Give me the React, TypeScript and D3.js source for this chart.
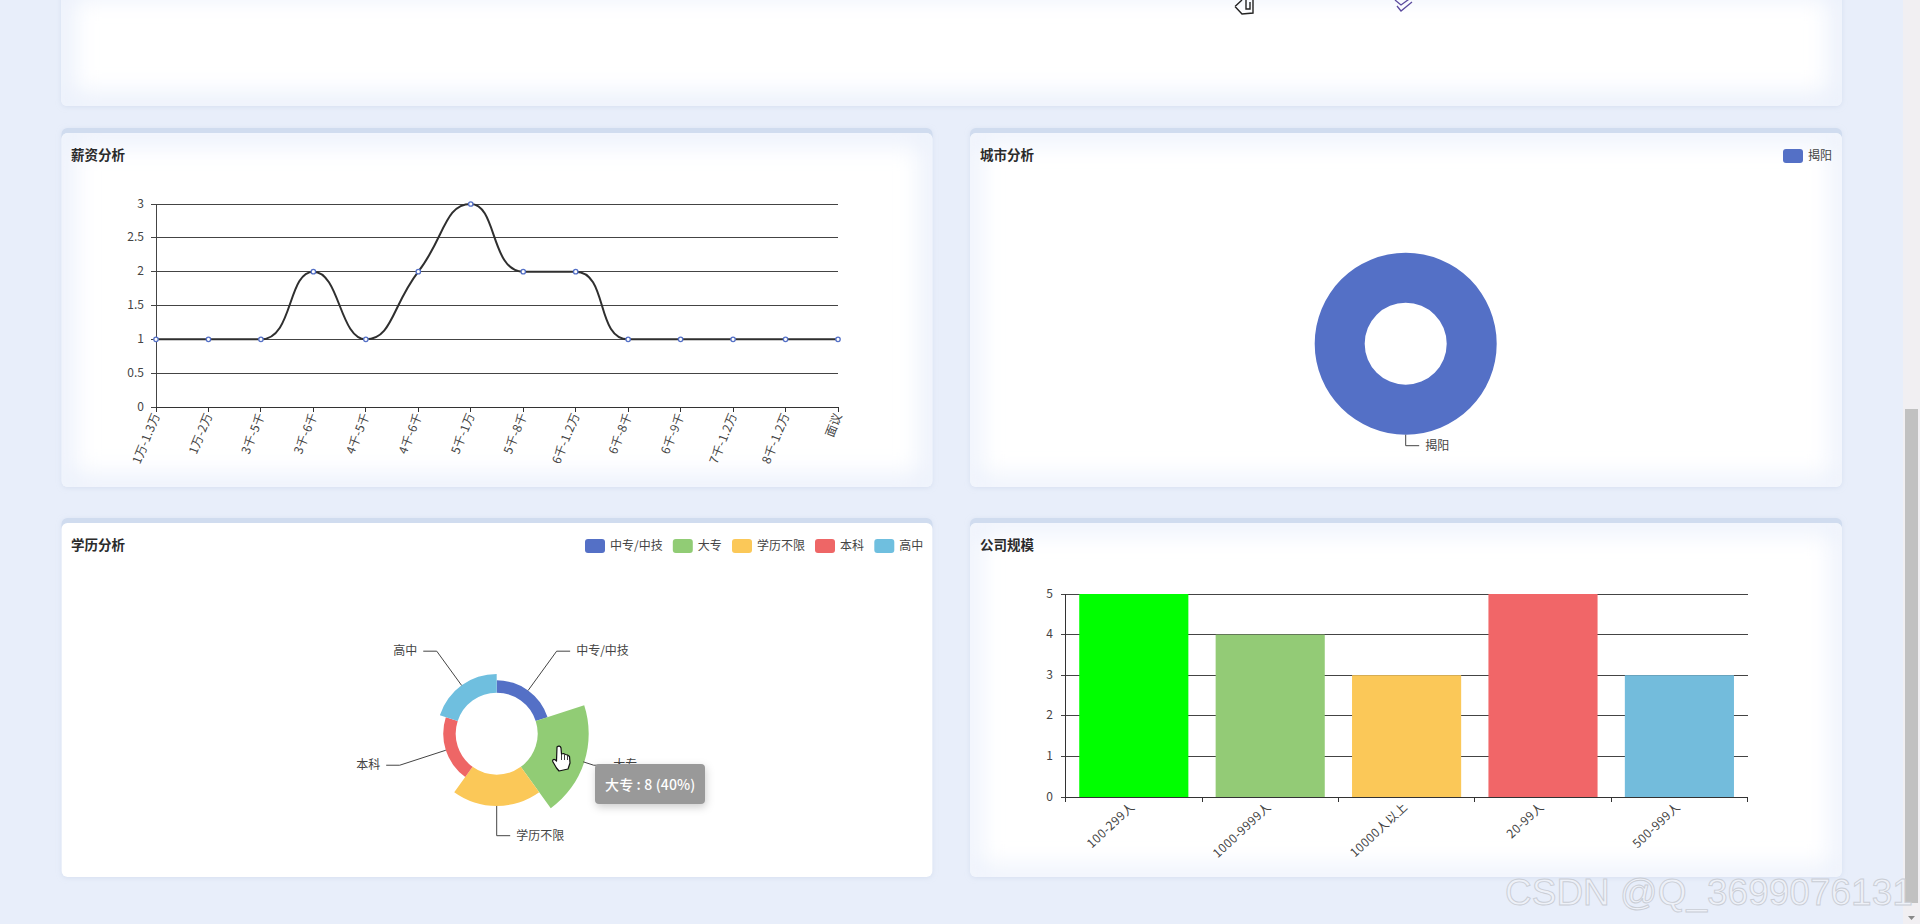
import React from "react";
import * as d3 from "d3";

const salaryCategories = ["1万-1.3万","1万-2万","3千-5千","3千-6千","4千-5千","4千-6千","5千-1万","5千-8千","6千-1.2万","6千-8千","6千-9千","7千-1.2万","8千-1.2万","面议"];
const salaryValues = [1,1,1,2,1,2,3,2,2,1,1,1,1,1];
const cityNames = ["揭阳"];
const cityValues = [1];
const eduNames = ["中专/中技","大专","学历不限","本科","高中"];
const eduValues = [2,8,5,2,3];
const sizeCategories = ["100-299人","1000-9999人","10000人以上","20-99人","500-999人"];
const sizeValues = [5,4,3,5,3];
const sizeColors = ["#00ff00","#93cb76","#fbc858","#f16668","#73bcdc"];
const pieColors = ["#5470c6","#91cc75","#fbc858","#ee6666","#6fbfdf"];

const FONT = '"Noto Sans CJK SC","Noto Sans",sans-serif';
const INK = "#444";
const RULE = "#444";

// ECharts-style smooth line, as a d3 curve
function smoothCurve(context: any) {
  let pts: [number, number][] = [];
  const s = 0.5;
  const clamp = (v: number, a: number, b: number) => Math.max(Math.min(v, Math.max(a, b)), Math.min(a, b));
  return {
    areaStart() {}, areaEnd() {},
    lineStart() { pts = []; },
    point(x: number, y: number) { pts.push([x, y]); },
    lineEnd() {
      const n = pts.length;
      context.moveTo(pts[0][0], pts[0][1]);
      let cp0: [number, number] = pts[0];
      for (let i = 1; i < n; i++) {
        const [x, y] = pts[i];
        const [px, py] = pts[i - 1];
        const [nx, ny] = i < n - 1 ? pts[i + 1] : pts[i];
        let cp1: [number, number] = [x, y];
        let next: [number, number] = [x, y];
        if (i < n - 1) {
          const lp = Math.hypot(x - px, y - py), ln = Math.hypot(nx - x, ny - y);
          const r = ln / (ln + lp);
          let vx = nx - px, vy = ny - py;
          const c0x = clamp(x + vx * s * r, x, nx), c0y = clamp(y + vy * s * r, y, ny);
          vx = c0x - x; vy = c0y - y;
          const c1x = clamp(x - (vx * lp) / ln, x, px), c1y = clamp(y - (vy * lp) / ln, y, py);
          vx = x - c1x; vy = y - c1y;
          next = [x + (vx * ln) / lp, y + (vy * ln) / lp];
          cp1 = [c1x, c1y];
        } else {
          cp1 = [x - (x - px) * s, y - (y - py) * s];
        }
        context.bezierCurveTo(cp0[0], cp0[1], cp1[0], cp1[1], x, y);
        cp0 = next;
      }
    },
  };
}

function Panel({ x, y, w, h, glow, id }: any) {
  return (
    <g>
      <rect x={x} y={y} width={w} height={h} rx={6} fill="#d0dcef" filter="url(#cardShadow)" />
      <clipPath id={id}><rect x={x} y={y + 5} width={w} height={h - 5} rx={6} /></clipPath>
      <rect x={x} y={y + 5} width={w} height={h - 5} rx={6} fill="#fff" />
      {glow > 0 && (
        <g clipPath={`url(#${id})`}>
          <rect x={x} y={y + 5} width={w} height={h - 5} fill="none" stroke="#e9effb" strokeWidth={glow} filter="url(#glowBlur)" />
        </g>
      )}
    </g>
  );
}

function Title({ x, y, children }: any) {
  return <text x={x} y={y} fontSize={13.5} fontWeight={700} fill="#2b2b2b" dominantBaseline="central">{children}</text>;
}

function LegendItem({ x, y, color, label }: any) {
  return (
    <g>
      <rect x={x} y={y - 7} width={20} height={14} rx={3} fill={color} />
      <text x={x + 25} y={y - 2} fontSize={12} fill={INK} dominantBaseline="central">{label}</text>
    </g>
  );
}

function SalaryChart() {
  const x = d3.scalePoint<string>().domain(salaryCategories).range([156, 838]);
  const y = d3.scaleLinear().domain([0, 3]).range([407, 204]);
  const line = d3.line<number>().x((_, i) => x(salaryCategories[i])!).y((d) => y(d)).curve(smoothCurve as any);
  return (
    <g>
      <g shapeRendering="crispEdges">
        {y.ticks(6).map((t) => (
          <g key={t}>
            <line x1={151} x2={156} y1={y(t)} y2={y(t)} stroke={RULE} />
            {t > 0 && <line x1={156} x2={838} y1={y(t)} y2={y(t)} stroke={RULE} />}
          </g>
        ))}
        <line x1={156} x2={156} y1={204} y2={407} stroke={RULE} />
        <line x1={156} x2={838} y1={407} y2={407} stroke="#333" />
        {salaryCategories.map((c) => (
          <line key={c} x1={x(c)} x2={x(c)} y1={407} y2={412} stroke="#333" />
        ))}
      </g>
      {y.ticks(6).map((t) => (
        <text key={t} x={144} y={y(t) - 2} fontSize={12} fill={INK} textAnchor="end" dominantBaseline="central">{t}</text>
      ))}
      {salaryCategories.map((c) => (
        <text key={c} transform={`translate(${x(c)! - 1},${413}) rotate(-68)`} fontSize={12} letterSpacing={0.3} fill={INK} textAnchor="end" dominantBaseline="central">{c}</text>
      ))}
      <path d={line(salaryValues)!} fill="none" stroke="#2f2f2f" strokeWidth={2} />
      {salaryValues.map((v, i) => (
        <circle key={i} cx={x(salaryCategories[i])} cy={y(v)} r={2.2} fill="#fff" stroke="#5470c6" strokeWidth={1.3} />
      ))}
    </g>
  );
}

function SizeChart() {
  const outer = d3.scaleBand<string>().domain(sizeCategories).range([1065.6, 1747.6]);
  const bars = d3.scaleBand<string>().domain(sizeCategories).range([1065.6, 1747.6]).paddingInner(0.2).paddingOuter(0.1);
  const y = d3.scaleLinear().domain([0, 5]).range([797, 594]);
  return (
    <g>
      <g shapeRendering="crispEdges">
        {y.ticks(5).map((t) => (
          <g key={t}>
            <line x1={1060.6} x2={1065.6} y1={y(t)} y2={y(t)} stroke={RULE} />
            {t > 0 && <line x1={1065.6} x2={1747.6} y1={y(t)} y2={y(t)} stroke={RULE} />}
          </g>
        ))}
        <line x1={1065.6} x2={1065.6} y1={594} y2={797} stroke="#333" />
      </g>
      {y.ticks(5).map((t) => (
        <text key={t} x={1053} y={y(t) - 2} fontSize={12} fill={INK} textAnchor="end" dominantBaseline="central">{t}</text>
      ))}
      {sizeCategories.map((c, i) => (
        <rect key={c} x={bars(c)} y={y(sizeValues[i])} width={bars.bandwidth()} height={797 - y(sizeValues[i])} fill={sizeColors[i]} />
      ))}
      <g shapeRendering="crispEdges">
        <line x1={1065.6} x2={1747.6} y1={797} y2={797} stroke="#333" />
        {[...sizeCategories.map((c) => outer(c)!), 1747.6].map((tx) => (
          <line key={tx} x1={tx} x2={tx} y1={797} y2={802} stroke="#333" />
        ))}
      </g>
      {sizeCategories.map((c) => (
        <text key={c} transform={`translate(${outer(c)! + outer.bandwidth() / 2 - 2},${804}) rotate(-43)`} fontSize={12} letterSpacing={0.45} fill={INK} textAnchor="end" dominantBaseline="central">{c}</text>
      ))}
    </g>
  );
}

function CalloutPie({ cx, cy, names, values, colors, rScale, rose, bump }: any) {
  const pie = d3.pie<number>().sort(null).value((d) => (rose ? 1 : d));
  const arcs = pie(values);
  const arc = d3.arc<any>();
  const at = (r: number, a: number): [number, number] => [cx + r * Math.sin(a), cy - r * Math.cos(a)];
  return (
    <g>
      {arcs.map((a: any, i: number) => {
        const outer = rScale(a.data) + (i === bump ? 1 : 0);
        const d = arc({ innerRadius: 41, outerRadius: outer, startAngle: a.startAngle, endAngle: a.endAngle });
        return <path key={i} d={d!} transform={`translate(${cx},${cy})`} fill={colors[i]} />;
      })}
      {arcs.map((a: any, i: number) => {
        const mid = (a.startAngle + a.endAngle) / 2;
        const p0 = at(rScale(a.data), mid);
        const p1 = at(102, mid);
        const right = Math.sin(mid) >= -1e-6;
        const p2: [number, number] = [p1[0] + (right ? 13.5 : -13.5), p1[1]];
        return (
          <g key={i}>
            <path d={d3.line()([p0, p1, p2])!} fill="none" stroke={RULE} strokeWidth={1} />
            <text x={p2[0] + (right ? 6 : -6)} y={p2[1] - 1.5} fontSize={12} fill={INK} textAnchor={right ? "start" : "end"} dominantBaseline="central">{names[i]}</text>
          </g>
        );
      })}
    </g>
  );
}

export default function App() {
  const eduR = d3.scaleLinear().domain([0, d3.max(eduValues)!]).range([41, 91]);
  const cityR = d3.scaleLinear().domain([0, 1]).range([41, 91]);
  const eduLegendX = [585, 672.8, 732, 815, 874.3];
  return (
    <div style={{ position: "fixed", left: 0, top: 0, width: 1920, height: 924, overflow: "hidden" }}>
      <svg width={1920} height={924} viewBox="0 0 1920 924" style={{ display: "block" }} fontFamily={FONT}>
        <defs>
          <filter id="cardShadow" x="-5%" y="-5%" width="110%" height="110%">
            <feDropShadow dx={0} dy={1} stdDeviation={2.5} floodColor="#c4d0e6" floodOpacity={0.5} />
          </filter>
          <filter id="glowBlur" x="-5%" y="-10%" width="110%" height="120%">
            <feGaussianBlur stdDeviation={12} />
          </filter>
          <filter id="tipShadow" x="-20%" y="-30%" width="140%" height="170%">
            <feDropShadow dx={1} dy={3} stdDeviation={4} floodColor="#000" floodOpacity={0.2} />
          </filter>
        </defs>
        <rect width={1920} height={924} fill="#e8eefa" />

        <Panel x={61} y={-20} w={1781} h={126} glow={24} id="clipTop" />
        <Panel x={61.5} y={128} w={871} h={359} glow={22} id="clipA" />
        <Panel x={970} y={128} w={872} h={359} glow={18} id="clipB" />
        <Panel x={61.5} y={518} w={871} h={359} glow={0} id="clipC" />
        <Panel x={970} y={518} w={872} h={359} glow={18} id="clipD" />

        {/* fragments of the section above */}
        <path d="M1235 6.500 L1242 0 M1235 6.500 L1242 14 L1253 13 L1253 0 M1246 0 L1246 9 L1250 9 L1250 2" fill="none" stroke="#222" strokeWidth={1.4} />
        <path d="M1395 0 L1401 5 L1412 -3 M1397 6 L1401 11 L1412 2" fill="none" stroke="#5b4a9e" strokeWidth={1.3} />

        <Title x={71} y={154}>薪资分析</Title>
        <Title x={980} y={154}>城市分析</Title>
        <Title x={71} y={544}>学历分析</Title>
        <Title x={980} y={544}>公司规模</Title>

        <SalaryChart />
        <LegendItem x={1783} y={156} color={pieColors[0]} label={cityNames[0]} />
        <CalloutPie cx={1405.700} cy={343.7} names={cityNames} values={cityValues} colors={pieColors} rScale={cityR} rose={false} bump={-1} />

        {eduNames.map((n, i) => (
          <LegendItem key={n} x={eduLegendX[i]} y={546} color={pieColors[i]} label={n} />
        ))}
        <CalloutPie cx={496.7} cy={733.7} names={eduNames} values={eduValues} colors={pieColors} rScale={eduR} rose={true} bump={1} />

        <SizeChart />

        {/* tooltip */}
        <rect x={595} y={764} width={110} height={40} rx={4} fill="#999" filter="url(#tipShadow)" />
        <text x={605} y={784} fontSize={14} letterSpacing={0.15} fontWeight={500} fill="#fff" dominantBaseline="central">{`${eduNames[1]} : ${eduValues[1]} (40%)`}</text>

        {/* hand cursor */}
        <path
          d="M557 747 C558.500 745.500 560.500 746 561 748 L561.500 754 L563.500 753.500 L565.500 754.500 L567.500 755 L569.500 756.500 L570 763 L568 769 L559 771 L556.500 768 L553 762 C552 760 553.500 758.500 555.500 760 L556.500 761 Z"
          fill="#fff" stroke="#111" strokeWidth={1.2} strokeLinejoin="round"
        />
        <path d="M561.500 754 L561.500 760 M564.500 754.500 L564.500 760 M567.500 755.500 L567.500 760" stroke="#111" strokeWidth={0.8} fill="none" />

        {/* scrollbar */}
        <rect x={1903} y={0} width={17} height={924} fill="#f1eff2" />
        <rect x={1905} y={409} width={13} height={494} fill="#c1c1c1" />
        <path d="M1908 916 L1915 916 L1911.500 920 Z" fill="#888" />

        {/* watermark */}
        <text x={1505} y={905} fontFamily='"Liberation Sans",Arial,sans-serif' fontSize={37} fill="#eef1f8" stroke="#c9cdd5" strokeWidth={0.9}>CSDN @Q_3699076131</text>
      </svg>
    </div>
  );
}
